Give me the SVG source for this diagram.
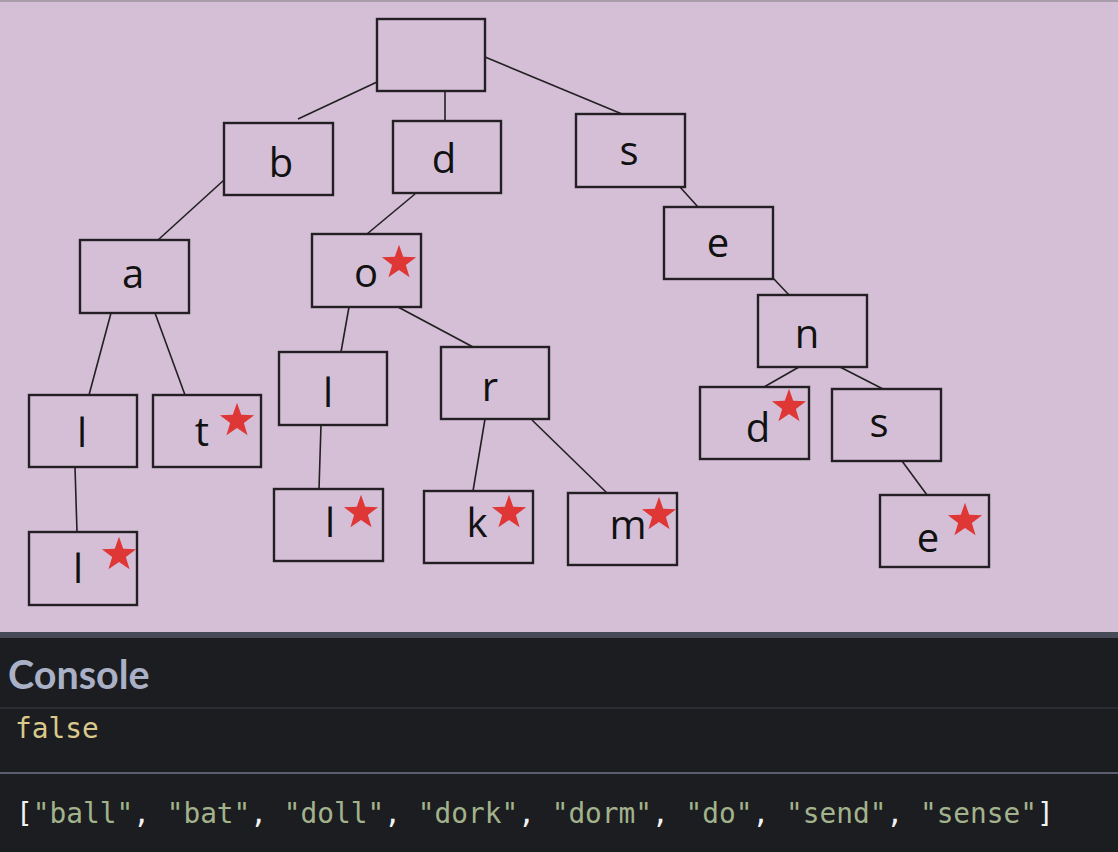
<svg xmlns="http://www.w3.org/2000/svg" width="1118" height="852" viewBox="0 0 1118 852">
<style>
.box{fill:none;stroke:#231f22;stroke-width:2.4}
.lbl{font-family:"Open Sans","DejaVu Sans",sans-serif;font-size:40px;fill:#111;text-anchor:middle}
.edge{stroke:#231f22;stroke-width:1.6;fill:none}
.star{fill:#df3636}
.mono{font-family:"DejaVu Sans Mono","Liberation Mono",monospace;font-size:27.8px}
.str{fill:#a2b38c}
.pun{fill:#f2f2f2}
</style>
<defs>
<path id="star" d="M0,-18 L4.23,-5.83 L17.12,-5.56 L6.85,2.23 L10.58,14.56 L0,7.2 L-10.58,14.56 L-6.85,2.23 L-17.12,-5.56 L-4.23,-5.83 Z"/>
</defs>
<rect x="0" y="0" width="1118" height="632" fill="#d4bfd7"/>
<rect x="0" y="0" width="1118" height="2" fill="#a99cab"/>
<g id="connectors">
<line class="edge" x1="377" y1="82" x2="298" y2="119"/>
<line class="edge" x1="445" y1="91" x2="445" y2="121"/>
<line class="edge" x1="485" y1="57" x2="622" y2="114"/>
<line class="edge" x1="224" y1="180" x2="158" y2="240"/>
<line class="edge" x1="415" y1="194" x2="367" y2="234"/>
<line class="edge" x1="111" y1="313" x2="89" y2="395"/>
<line class="edge" x1="155" y1="313" x2="185" y2="395"/>
<polyline class="edge" points="75,467 76,500 77,532"/>
<line class="edge" x1="349" y1="307" x2="341" y2="352"/>
<line class="edge" x1="398" y1="307" x2="473" y2="347"/>
<line class="edge" x1="321" y1="425" x2="319" y2="489"/>
<line class="edge" x1="485" y1="419" x2="473" y2="491"/>
<line class="edge" x1="532" y1="420" x2="607" y2="493"/>
<line class="edge" x1="680" y1="187" x2="698" y2="207"/>
<line class="edge" x1="773" y1="278" x2="789" y2="295"/>
<line class="edge" x1="799" y1="367" x2="764" y2="387"/>
<line class="edge" x1="840" y1="367" x2="883" y2="389"/>
<line class="edge" x1="902" y1="461" x2="927" y2="495"/>
</g>
<g id="node-root"><rect class="box" x="377" y="19" width="108" height="72"/></g>
<g id="node-b"><rect class="box" x="224" y="123" width="109" height="72"/><text class="lbl" x="281" y="177">b</text></g>
<g id="node-d"><rect class="box" x="393" y="121" width="108" height="72"/><text class="lbl" x="444" y="173">d</text></g>
<g id="node-s"><rect class="box" x="576" y="114" width="109" height="73"/><text class="lbl" x="629" y="165">s</text></g>
<g id="node-a"><rect class="box" x="80" y="240" width="109" height="73"/><text class="lbl" x="133" y="288">a</text></g>
<g id="node-o"><rect class="box" x="312" y="234" width="109" height="73"/><text class="lbl" x="366" y="287">o</text><use href="#star" class="star" x="399" y="262.7"/></g>
<g id="node-e"><rect class="box" x="664" y="207" width="109" height="72"/><text class="lbl" x="718" y="257">e</text></g>
<g id="node-n"><rect class="box" x="758" y="295" width="109" height="72"/><text class="lbl" x="807" y="348">n</text></g>
<g id="node-al"><rect class="box" x="29" y="395" width="108" height="72"/><text class="lbl" x="82" y="447">l</text></g>
<g id="node-at"><rect class="box" x="153" y="395" width="108" height="72"/><text class="lbl" x="202" y="446">t</text><use href="#star" class="star" x="237" y="420.7"/></g>
<g id="node-all"><rect class="box" x="29" y="532" width="108" height="73"/><text class="lbl" x="78" y="583">l</text><use href="#star" class="star" x="119" y="554.7"/></g>
<g id="node-ol"><rect class="box" x="279" y="352" width="108" height="73"/><text class="lbl" x="328" y="407">l</text></g>
<g id="node-or"><rect class="box" x="441" y="347" width="108" height="72"/><text class="lbl" x="490" y="401">r</text></g>
<g id="node-oll"><rect class="box" x="274" y="489" width="109" height="72"/><text class="lbl" x="330" y="537">l</text><use href="#star" class="star" x="361" y="512.7"/></g>
<g id="node-ork"><rect class="box" x="424" y="491" width="109" height="72"/><text class="lbl" x="477" y="537">k</text><use href="#star" class="star" x="509" y="512.7"/></g>
<g id="node-orm"><rect class="box" x="568" y="493" width="109" height="72"/><text class="lbl" x="628" y="539">m</text><use href="#star" class="star" x="659" y="514.7"/></g>
<g id="node-nd"><rect class="box" x="700" y="387" width="109" height="72"/><text class="lbl" x="758" y="442">d</text><use href="#star" class="star" x="789" y="406.7"/></g>
<g id="node-ns"><rect class="box" x="832" y="389" width="109" height="72"/><text class="lbl" x="879" y="437">s</text></g>
<g id="node-nse"><rect class="box" x="880" y="495" width="109" height="72"/><text class="lbl" x="928" y="552">e</text><use href="#star" class="star" x="965" y="520.7"/></g>
<g id="console">
<rect x="0" y="632" width="1118" height="220" fill="#1c1d21"/>
<rect x="0" y="632" width="1118" height="6" fill="#474b57"/>
<text x="8" y="689" font-family="Lato,'Open Sans',sans-serif" font-weight="bold" font-size="39.5" fill="#aab0c5">Console</text>
<rect x="0" y="707" width="1118" height="2" fill="#2a2c31"/>
<text class="mono" x="15" y="738" fill="#dac98b">false</text>
<rect x="0" y="772" width="1118" height="2" fill="#5b5f6d"/>
<text class="mono" x="16" y="823" xml:space="preserve"><tspan class="pun">[</tspan><tspan class="str">"ball"</tspan><tspan class="pun">, </tspan><tspan class="str">"bat"</tspan><tspan class="pun">, </tspan><tspan class="str">"doll"</tspan><tspan class="pun">, </tspan><tspan class="str">"dork"</tspan><tspan class="pun">, </tspan><tspan class="str">"dorm"</tspan><tspan class="pun">, </tspan><tspan class="str">"do"</tspan><tspan class="pun">, </tspan><tspan class="str">"send"</tspan><tspan class="pun">, </tspan><tspan class="str">"sense"</tspan><tspan class="pun">]</tspan></text>
</g>
</svg>
